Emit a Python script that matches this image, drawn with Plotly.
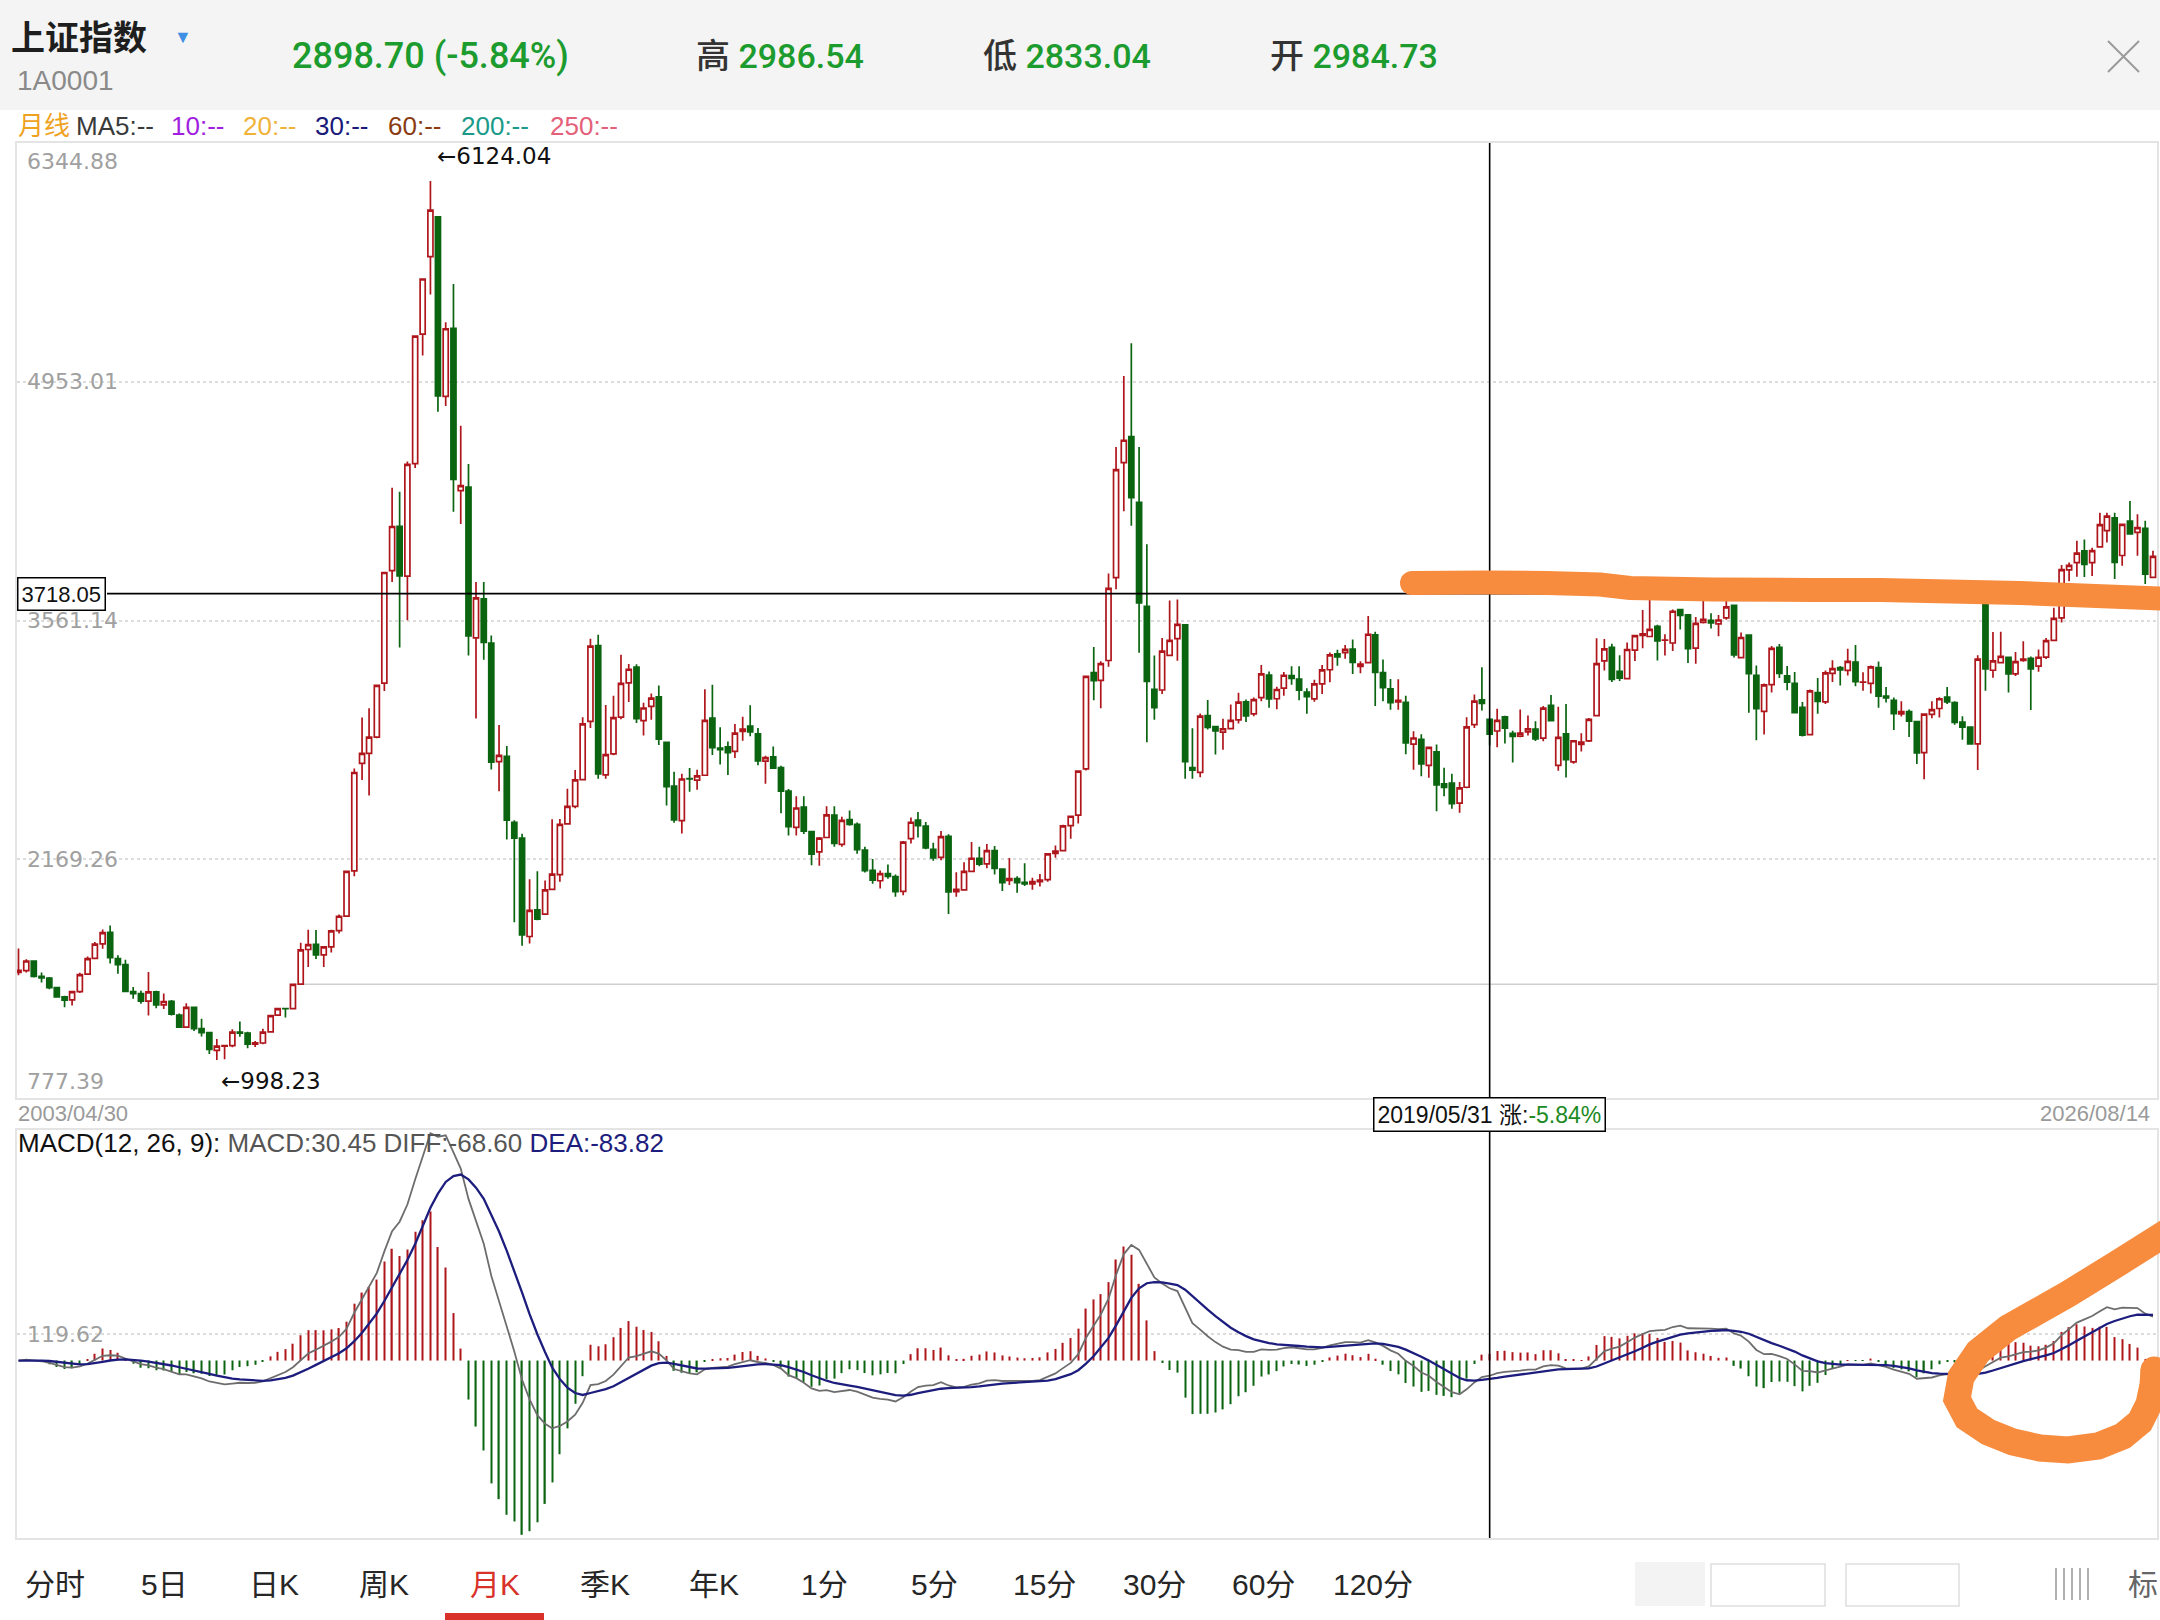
import pandas as pd
import plotly.graph_objects as go

W, H = 2160, 1620
RED = '#ae161c'
GREEN = '#0a6410'
TXT_GREEN = '#1c9b2e'
ORANGE = '#f78c3f'
FONT = 'Liberation Sans, Arial, Noto Sans CJK SC, sans-serif'
NUM_FONT = 'DejaVu Sans, Noto Sans CJK SC, sans-serif'
HEAD_FONT = 'Roboto, Liberation Sans, Noto Sans CJK SC, sans-serif'

# monthly bars, 2003-04 .. 2026-08 (one row per year)
open_px = [
    1510, 1520, 1576, 1487, 1476, 1421, 1367, 1349, 1398,
    1499, 1591, 1676, 1743, 1590, 1555, 1398, 1386, 1342, 1396, 1320, 1341,
    1261, 1191, 1306, 1182, 1159, 1055, 1079, 1083, 1162, 1156, 1091, 1098,
    1163, 1260, 1299, 1299, 1441, 1643, 1673, 1612, 1658, 1753, 1838, 2101,
    2728, 2787, 2881, 3196, 3852, 4110, 3820, 4476, 5231, 5683, 5915, 4868,
    5265, 4318, 4339, 3460, 3688, 3429, 2738, 2769, 2384, 2293, 1719, 1875,
    1849, 1994, 2080, 2375, 2478, 2634, 2973, 3415, 2661, 2784, 2998, 3198,
    3289, 2978, 3061, 3116, 2851, 2595, 2394, 2639, 2631, 2659, 2992, 2817,
    2825, 2798, 2915, 2946, 2901, 2741, 2766, 2703, 2566, 2355, 2473, 2330,
    2212, 2296, 2427, 2256, 2400, 2372, 2222, 2104, 2044, 2086, 2068, 1982,
    2289, 2398, 2363, 2227, 2180, 2303, 1980, 1991, 2099, 2174, 2142, 2219,
    2112, 2046, 2057, 2034, 2025, 2038, 2050, 2203, 2219, 2365, 2427, 2696,
    3258, 3212, 3328, 3811, 4481, 4633, 4250, 3643, 3160, 3156, 3358, 3455,
    3536, 2703, 2676, 3006, 2943, 2910, 2931, 2982, 3087, 3017, 3112, 3243,
    3105, 3167, 3240, 3220, 3144, 3104, 3192, 3274, 3367, 3374, 3395, 3294,
    3315, 3478, 3258, 3163, 3087, 3084, 2841, 2868, 2717, 2796, 2609, 2613,
    2497, 2589, 2954, 3099, 2984.73, 2917, 2999, 2903, 2887, 2912, 2928, 2875,
    3066, 2716, 2900, 2737, 2839, 2859, 3007, 3326, 3404, 3265, 3222, 3389,
    3474, 3468, 3527, 3446, 3430, 3624, 3594, 3400, 3550, 3562, 3541, 3576,
    3649, 3345, 3476, 3242, 3031, 3187, 3405, 3239, 3195, 3055, 2896, 3141,
    3087, 3253, 3286, 3270, 3318, 3201, 3195, 3287, 3121, 3095, 3016, 3030,
    2972, 2791, 3014, 3048, 3114, 3082, 2969, 2940, 2842, 3674, 3271, 3316,
    3347, 3250, 3328, 3341, 3295, 3348, 3445, 3577, 3856, 3898, 3967, 3898,
    3990, 4085, 4160, 3940, 4140, 4075, 4098, 3813,
]
high_px = [
    1649, 1586, 1577, 1509, 1483, 1425, 1374, 1398, 1508,
    1603, 1687, 1759, 1783, 1609, 1584, 1425, 1402, 1512, 1403, 1387, 1349,
    1270, 1330, 1309, 1240, 1161, 1121, 1085, 1178, 1223, 1163, 1110, 1181,
    1260, 1304, 1304, 1445, 1683, 1758, 1757, 1662, 1758, 1847, 2099, 2698,
    2996, 3049, 3184, 3841, 4335, 4312, 4488, 5219, 5553, 6124.04, 5916, 5300,
    5523, 4696, 4473, 3786, 3786, 3474, 2952, 2829, 2397, 2318, 2052, 2100,
    2046, 2402, 2404, 2580, 2689, 2997, 3455, 3478, 3068, 3123, 3361, 3307,
    3306, 3081, 3135, 3182, 2851, 2679, 2667, 2701, 2691, 3160, 3186, 2939,
    2856, 2958, 3000, 3067, 2934, 2773, 2826, 2715, 2579, 2537, 2536, 2334,
    2299, 2478, 2478, 2417, 2454, 2383, 2242, 2171, 2104, 2139, 2081, 2276,
    2412, 2444, 2387, 2265, 2334, 2315, 2093, 2152, 2270, 2242, 2258, 2246,
    2112, 2177, 2070, 2146, 2061, 2083, 2204, 2249, 2370, 2420, 2685, 3239,
    3406, 3324, 3835, 4573, 4986, 5178, 4572, 4006, 3357, 3459, 3678, 3684,
    3539, 2933, 3019, 3097, 2944, 2988, 3072, 3140, 3101, 3112, 3301, 3264,
    3175, 3261, 3295, 3295, 3166, 3216, 3301, 3374, 3391, 3418, 3450, 3324,
    3587, 3495, 3334, 3220, 3219, 3123, 2915, 2898, 2827, 2838, 2703, 2667,
    2620, 2997, 3129, 3288, 2986.54, 3046, 3006, 2918, 3042, 3008, 2974, 3063,
    3127, 3058, 3074, 2862, 2904, 2992, 3458, 3454, 3425, 3358, 3433, 3474,
    3622, 3732, 3537, 3481, 3625, 3625, 3598, 3582, 3723, 3603, 3593, 3708,
    3652, 3491, 3478, 3299, 3194, 3413, 3424, 3296, 3261, 3086, 3159, 3226,
    3269, 3329, 3296, 3397, 3419, 3260, 3299, 3322, 3173, 3112, 3091, 3042,
    2976, 3020, 3091, 3113, 3174, 3091, 3003, 2943, 3358, 3674, 3494, 3495,
    3347, 3377, 3440, 3351, 3392, 3459, 3636, 3884, 3899, 4026, 4034, 3985,
    4190, 4190, 4190, 4125, 4258, 4181, 4142, 3968,
]
low_px = [
    1493, 1509, 1480, 1451, 1411, 1362, 1307, 1317, 1390,
    1496, 1587, 1647, 1562, 1502, 1399, 1356, 1327, 1259, 1301, 1296, 1259,
    1189, 1189, 1168, 1136, 1034, 998.23, 1004, 1073, 1135, 1067, 1074, 1091,
    1161, 1258, 1247, 1294, 1440, 1541, 1588, 1541, 1625, 1736, 1836, 2070,
    2631, 2541, 2875, 3150, 3785, 3404, 3563, 4450, 5106, 5462, 4778, 4812,
    4195, 4123, 3357, 2990, 3333, 2693, 2566, 2284, 1802, 1664.93, 1678, 1814,
    1844, 1990, 2038, 2372, 2467, 2628, 2934, 2639, 2639, 2776, 2986, 3086,
    2963, 2891, 2982, 2835, 2482, 2382, 2319, 2563, 2574, 2658, 2777, 2721,
    2661, 2760, 2860, 2886, 2717, 2610, 2695, 2437, 2308, 2307, 2316, 2134,
    2132, 2294, 2242, 2242, 2365, 2202, 2092, 2026, 1999, 2055, 1950, 1959,
    2261, 2296, 2228, 2161, 2163, 1849.65, 1950, 1990, 2098, 2129, 2117, 2081,
    1984, 2019, 1974, 2014, 1991, 2010, 2038, 2178, 2215, 2289, 2377, 2687,
    3096, 3050, 3292, 3743, 4198, 4113, 3373, 2851, 2983, 3133, 3354, 3327,
    2639, 2638, 2648, 2925, 2780, 2807, 2928, 2961, 2969, 3003, 3091, 3052,
    3044, 3123, 3187, 3096, 3017, 3088, 3133, 3201, 3298, 3338, 3249, 3254,
    3315, 3063, 3091, 3041, 3041, 2782, 2691, 2653, 2644, 2449, 2537, 2463,
    2440, 2583, 2935, 3037, 2833.04, 2822, 2844, 2733, 2881, 2891, 2858, 2857,
    2977, 2685, 2646, 2726, 2797, 2853, 3002, 3269, 3203, 3209, 3218, 3325,
    3400, 3464, 3328, 3357, 3383, 3509, 3313, 3309, 3543, 3515, 3469, 3565,
    3346, 3345, 3023, 2863, 2897, 3142, 3226, 3155, 3021, 2885, 2896, 3017,
    3074, 3203, 3182, 3241, 3178, 3152, 3136, 3053, 3083, 2923, 3002, 2882,
    2724, 2635, 2991, 2995, 3074, 2953, 2866, 2837, 2689, 3152, 3227, 3314,
    3141, 3237, 3320, 3040, 3262, 3336, 3440, 3550, 3790, 3816, 3815, 3820,
    3985, 4016, 3803, 3880, 4062, 3939, 3774, 3810,
]
close_px = [
    1521, 1576, 1487, 1477, 1421, 1367, 1348, 1397, 1497,
    1590, 1675, 1742, 1595, 1555, 1399, 1386, 1342, 1396, 1320, 1340, 1266,
    1191, 1306, 1181, 1159, 1060, 1080, 1083, 1162, 1155, 1092, 1099, 1161,
    1258, 1299, 1298, 1440, 1641, 1672, 1612, 1658, 1752, 1837, 2099, 2675,
    2786, 2881, 3183, 3841, 4109, 3821, 4471, 5219, 5552, 5954, 4871, 5262,
    4383, 4348, 3472, 3693, 3433, 2736, 2775, 2397, 2293, 1728, 1871, 1820,
    1991, 2082, 2373, 2477, 2632, 2959, 3412, 2667, 2779, 2995, 3195, 3277,
    2989, 3051, 3109, 2870, 2592, 2398, 2637, 2638, 2655, 2979, 2820, 2808,
    2790, 2905, 2928, 2911, 2743, 2762, 2701, 2567, 2359, 2468, 2333, 2199,
    2292, 2428, 2262, 2396, 2373, 2225, 2103, 2047, 2086, 2069, 1980, 2269,
    2385, 2365, 2236, 2177, 2301, 1979, 1994, 2098, 2175, 2141, 2220, 2116,
    2033, 2056, 2033, 2026, 2039, 2048, 2201, 2217, 2364, 2420, 2683, 3235,
    3210, 3310, 3748, 4441, 4612, 4277, 3664, 3206, 3053, 3383, 3445, 3539,
    2738, 2688, 3004, 2938, 2917, 2930, 2979, 3085, 3005, 3100, 3250, 3104,
    3159, 3242, 3223, 3155, 3117, 3192, 3273, 3361, 3349, 3393, 3317, 3307,
    3481, 3259, 3169, 3082, 3095, 2847, 2876, 2725, 2821, 2603, 2588, 2494,
    2585, 2941, 3091, 3078, 2898.70, 2979, 2933, 2886, 2905, 2929, 2871, 3050,
    2977, 2880, 2750, 2860, 2852, 2985, 3310, 3396, 3218, 3225, 3392, 3473,
    3483, 3509, 3442, 3447, 3615, 3591, 3397, 3544, 3568, 3547, 3564, 3640,
    3361, 3462, 3252, 3047, 3186, 3399, 3253, 3202, 3024, 2893, 3151, 3089,
    3256, 3280, 3273, 3323, 3205, 3202, 3291, 3120, 3110, 3018, 3030, 2975,
    2789, 3015, 3041, 3105, 3087, 2967, 2939, 2842, 3336, 3279, 3326, 3352,
    3250, 3321, 3336, 3279, 3347, 3444, 3573, 3858, 3883, 3954, 3888, 3968,
    4120, 4170, 3900, 4122, 4066, 4102, 3832, 3935,
]

price_range = [777.39, 6344.88]
price_ticks = [4953.01, 3561.14, 2169.26]
price_labels = ['6344.88', '4953.01', '3561.14', '2169.26', '777.39']
macd_tick = 119.62
cross_price = 3718.05
cross_date = '2019-05-31'
ray_price = 1440
tabs = ['分时', '5日', '日K', '周K', '月K', '季K', '年K', '1分', '5分', '15分', '30分', '60分', '120分']
ma_items = ['月线', 'MA5:--', '10:--', '20:--', '30:--', '60:--', '200:--', '250:--']
ma_colors = ['#eea21f', '#3a3a3a', '#a11ee0', '#efb33a', '#191979', '#8b3b12', '#1a9a88', '#e4607a']


def px(x):
    return x / W


def py(y):
    return 1 - y / H


def path(points):
    return 'M ' + ' L '.join('{:.5f},{:.5f}'.format(px(a), py(b)) for a, b in points)


def main():
    dates = pd.date_range('2003-04-30', periods=len(close_px), freq='ME')
    close = pd.Series(close_px, dtype=float)
    diff = close.ewm(span=12, adjust=False).mean() - close.ewm(span=26, adjust=False).mean()
    dea = diff.ewm(span=9, adjust=False).mean()
    macd = 2 * (diff - dea)
    lo = min(diff.min(), dea.min(), macd.min())
    hi = max(diff.max(), dea.max(), macd.max())
    pad = (hi - lo) * 0.008

    fig = go.Figure()
    fig.add_trace(go.Candlestick(
        x=dates, open=open_px, high=high_px, low=low_px, close=close_px,
        increasing=dict(line=dict(color=RED, width=1.7), fillcolor='white'),
        decreasing=dict(line=dict(color=GREEN, width=1.7), fillcolor=GREEN),
        whiskerwidth=0, hoverinfo='skip', showlegend=False,
        xaxis='x', yaxis='y'))
    fig.add_trace(go.Bar(
        x=dates, y=macd, width=5 * 86400000,
        marker=dict(color=[RED if v >= 0 else GREEN for v in macd], line=dict(width=0)),
        hoverinfo='skip', showlegend=False, xaxis='x2', yaxis='y2'))
    fig.add_trace(go.Scatter(x=dates, y=diff, mode='lines', line=dict(color='#6d6d6d', width=1.8),
                             hoverinfo='skip', showlegend=False, xaxis='x2', yaxis='y2'))
    fig.add_trace(go.Scatter(x=dates, y=dea, mode='lines', line=dict(color='#1d1d7e', width=2.3),
                             hoverinfo='skip', showlegend=False, xaxis='x2', yaxis='y2'))

    xr = ['2003-04-22', '2026-09-16']
    axis_common = dict(showline=True, mirror=True, linecolor='#e4e4e4', linewidth=1.5,
                       zeroline=False, showticklabels=False, ticks='')
    fig.update_layout(
        width=W, height=H, margin=dict(l=0, r=0, t=0, b=0),
        paper_bgcolor='white', plot_bgcolor='white', showlegend=False,
        boxgap=0.15, boxgroupgap=0.15,
        font=dict(family=FONT, color='#222'),
        xaxis=dict(domain=[px(16.5), px(2157)], range=xr, anchor='y', showgrid=False,
                   rangeslider=dict(visible=False), **axis_common),
        yaxis=dict(domain=[py(1098), py(143)], range=price_range, tickvals=price_ticks,
                   showgrid=True, gridcolor='#dcdcdc', griddash='dot', gridwidth=1.5,
                   anchor='x', **axis_common),
        xaxis2=dict(domain=[px(16.5), px(2157)], range=xr, matches='x', anchor='y2',
                    showgrid=False, **axis_common),
        yaxis2=dict(domain=[py(1538), py(1130)], range=[lo - pad, hi + pad], tickvals=[macd_tick],
                    showgrid=True, gridcolor='#dcdcdc', griddash='dot', gridwidth=1.5,
                    anchor='x2', **axis_common),
    )

    shapes = [
        # header band
        dict(type='rect', xref='paper', yref='paper', x0=0, x1=1, y0=py(110), y1=1,
             fillcolor='#f4f4f4', line=dict(width=0), layer='below'),
        # close icon
        dict(type='line', xref='paper', yref='paper', x0=px(2108), x1=px(2139), y0=py(41), y1=py(72),
             line=dict(color='#9a9a9a', width=2)),
        dict(type='line', xref='paper', yref='paper', x0=px(2139), x1=px(2108), y0=py(41), y1=py(72),
             line=dict(color='#9a9a9a', width=2)),
        # horizontal ray drawn on the chart
        dict(type='line', xref='x', yref='y', x0=dates[36], x1=xr[1], y0=ray_price, y1=ray_price,
             line=dict(color='#cfcfcf', width=1.5), layer='below'),
        # crosshair
        dict(type='line', xref='x', yref='paper', x0=cross_date, x1=cross_date, y0=py(1538), y1=py(143),
             line=dict(color='black', width=1.6)),
        dict(type='line', xref='paper', yref='y', x0=px(107), x1=1, y0=cross_price, y1=cross_price,
             line=dict(color='black', width=1.6)),
        # tab underline
        dict(type='rect', xref='paper', yref='paper', x0=px(445), x1=px(544), y0=0, y1=py(1613),
             fillcolor='#d8312a', line=dict(width=0)),
        # faded buttons bottom right
        dict(type='rect', xref='paper', yref='paper', x0=px(1635), x1=px(1705), y0=py(1606), y1=py(1562),
             fillcolor='#f3f3f3', line=dict(width=0)),
        dict(type='rect', xref='paper', yref='paper', x0=px(1711), x1=px(1825), y0=py(1606), y1=py(1564),
             fillcolor='white', line=dict(color='#dedede', width=1.5)),
        dict(type='rect', xref='paper', yref='paper', x0=px(1846), x1=px(1959), y0=py(1606), y1=py(1564),
             fillcolor='white', line=dict(color='#dedede', width=1.5)),
    ]
    for bx in (2056, 2064, 2072, 2080, 2088):
        shapes.append(dict(type='line', xref='paper', yref='paper', x0=px(bx), x1=px(bx),
                           y0=py(1600), y1=py(1568), line=dict(color='#b0b0b0', width=2)))

    # hand-drawn orange marks
    stroke = [(1412, 583), (1487, 582.5), (1547, 583), (1600, 584.5), (1630, 588), (1713, 589.5),
              (1813, 590), (1880, 590), (2020, 593), (2170, 599)]
    hook = [(2174, 1228), (2120, 1262), (2068, 1294), (2008, 1328), (1978, 1352), (1961, 1377),
            (1957, 1399), (1967, 1418), (1988, 1432), (2013, 1442), (2040, 1448), (2068, 1450),
            (2098, 1446), (2123, 1436), (2140, 1422), (2149, 1404), (2153, 1385), (2154, 1370)]
    shapes.append(dict(type='path', xref='paper', yref='paper', path=path(stroke),
                       line=dict(color=ORANGE, width=24)))
    shapes.append(dict(type='path', xref='paper', yref='paper', path=path(hook),
                       line=dict(color=ORANGE, width=27)))
    for (cx, cy), r in (((1412, 583), 12), ((2154, 1370), 13.5)):
        shapes.append(dict(type='circle', xref='paper', yref='paper', x0=px(cx - r), x1=px(cx + r),
                           y0=py(cy + r), y1=py(cy - r), fillcolor=ORANGE, line=dict(width=0)))
    fig.update_layout(shapes=shapes)

    def note(text, x, y, size, color='#222', xanchor='left', yanchor='middle', xref='paper', yref='paper',
             family=FONT, weight='normal', **kw):
        fig.add_annotation(text=text, x=x, y=y, xref=xref, yref=yref, xanchor=xanchor, yanchor=yanchor,
                           showarrow=False, font=dict(size=size, color=color, family=family, weight=weight),
                           **kw)

    g = "<span style='color:%s'>%%s</span>" % TXT_GREEN
    # header
    note('<b>上证指数</b>', px(9), py(38), 34, '#1e1e1e')
    note('▼', px(172), py(37), 18, '#3f8fe4')
    note('1A0001', px(15), py(80), 28, '#8a8a8a')
    note('2898.70 (-5.84%)', px(290), py(56), 36, TXT_GREEN, family=HEAD_FONT, weight=500)
    note('高 ' + g % '2986.54', px(694), py(56), 34, '#333', family=HEAD_FONT, weight=500)
    note('低 ' + g % '2833.04', px(981), py(56), 34, '#333', family=HEAD_FONT, weight=500)
    note('开 ' + g % '2984.73', px(1268), py(56), 34, '#333', family=HEAD_FONT, weight=500)
    # MA legend
    ma_x = [16, 74, 169, 241, 313, 386, 459, 548]
    for t, c, xx in zip(ma_items, ma_colors, ma_x):
        note(t, px(xx), py(126), 26, c)

    # price labels
    label_y = [161, None, None, None, 1081]
    for lab, yy in zip(price_labels, label_y):
        if yy is None:
            note(lab, px(25), float(lab), 22, '#a0a0a0', yref='y', family=NUM_FONT)
        else:
            note(lab, px(25), py(yy), 22, '#a0a0a0', family=NUM_FONT)
    note('←6124.04', dates[54], 6124.04, 23, '#111', xref='x', yref='y', xshift=5, yshift=25,
         family=NUM_FONT)
    note('←998.23', dates[26], 998.23, 23, '#111', xref='x', yref='y', xshift=2, yshift=-21,
         family=NUM_FONT)
    note('3718.05', px(17), cross_price, 22, '#111', yref='y', bgcolor='white',
         bordercolor='black', borderwidth=1.5, borderpad=3)

    # date row
    note('2003/04/30', px(16), py(1113), 22, '#9a9a9a')
    note('2026/08/14', px(2152), py(1113), 22, '#9a9a9a', xanchor='right')
    note('2019/05/31 涨:' + "<span style='color:#1d8a24'>-5.84%</span>", cross_date, py(1114), 23, '#111',
         xanchor='center', xref='x', bgcolor='white', bordercolor='black', borderwidth=1.5, borderpad=3)

    # MACD title and label
    note("MACD(12, 26, 9): <span style='color:#555'>MACD:30.45 DIFF:-68.60</span> "
         "<span style='color:#1d1d7e'>DEA:-83.82</span>", px(16), py(1143), 26, '#111')
    note('119.62', px(25), macd_tick, 22, '#a0a0a0', yref='y2', family=NUM_FONT)

    # bottom tabs
    centers = [55, 164, 274, 384, 495, 605, 714, 824, 934, 1044, 1154, 1263, 1373]
    for t, cx in zip(tabs, centers):
        note(t, px(cx), py(1584), 30, '#d8312a' if t == '月K' else '#262626', xanchor='center')
    note('标', px(2126), py(1584), 30, '#666')

    fig.write_html('out.html', config={'displayModeBar': False},
                   post_script="document.body.style.margin='0';")


if __name__ == '__main__':
    main()
